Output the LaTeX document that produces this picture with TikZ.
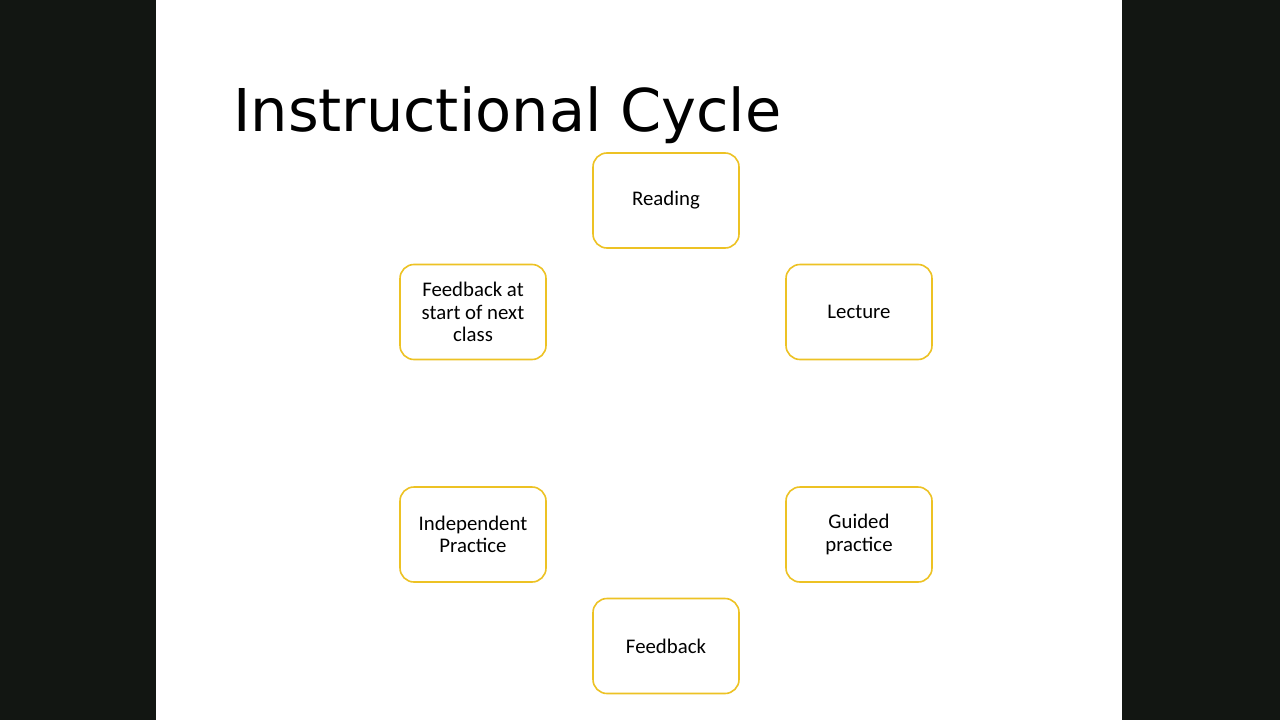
\documentclass[tikz,border=0pt]{standalone}
\usepackage{fontspec}
\setmainfont{Carlito}
\newfontfamily\titlefont{DejaVu Sans}
\definecolor{barcol}{HTML}{121612}
\definecolor{boxcol}{HTML}{EDC224}
\begin{document}
\begin{tikzpicture}[x=1pt, y=-1pt,
		b/.style = {rectangle, draw=boxcol, line width=1.6pt, rounded corners=14pt, fill=white,
			minimum width=146pt, minimum height=95pt, align=center,
			font=\fontsize{20.8}{22.5}\selectfont},
		t/.style = {anchor=base west, inner sep=0pt, font=\titlefont\fontsize{59}{66}\selectfont},
		]
		
		% === === Background === ===
		\useasboundingbox (0, 0) rectangle (1280, 720);
		\fill[barcol]	(0, 0)		rectangle	(1280, 720);
		\fill[white]	(156, 0)	rectangle	(1122, 720);
		
		% === === Title === ===
		\node[t]	(title)	at	(233, 131)		{Instructional Cycle};
		
		% === === Nodes === ===
		\node[b]	(read)	at	(666, 200.5)	{Reading};
		\node[b]	(lect)	at	(859, 312)		{Lecture};
		\node[b]	(guid)	at	(859, 534.5)	{Guided\\practice};
		\node[b]	(feed)	at	(666, 646)		{Feedback};
		\node[b]	(indp)	at	(473, 534.5)	{Independent\\Practice};
		\node[b]	(next)	at	(473, 312)		{Feedback at\\start of next\\class};
		
	\end{tikzpicture}
\end{document}
